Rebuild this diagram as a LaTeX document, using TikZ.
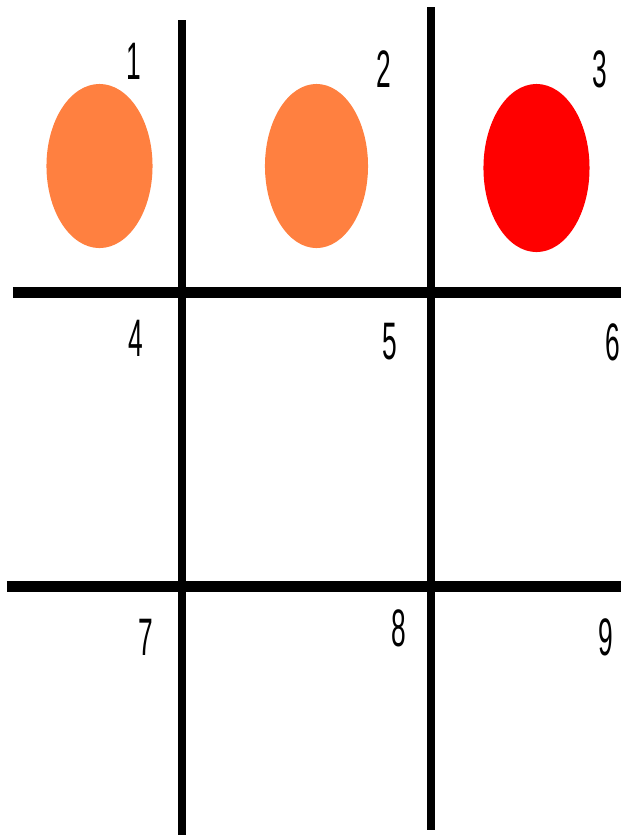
\documentclass[tikz,border=0pt]{standalone}
\usepackage{fontspec}
\setmainfont{Liberation Sans}
\usetikzlibrary{shapes.geometric}
\definecolor{lightred}{RGB}{255,128,64}
\begin{document}
\begin{tikzpicture}[x=0.01cm,y=-0.01cm,
  num/.style={inner sep=0pt, font=\fontsize{15}{15}\selectfont},
  blob/.style={ellipse, inner sep=0pt, minimum width=1.06cm, minimum height=1.64cm},
  vline/.style={line width=0.08cm},
  hline/.style={line width=0.11cm}]
\useasboundingbox (0,0) rectangle (621,838);
% grid lines
\coordinate (v1t) at (182,20);  \coordinate (v1b) at (182,835);
\coordinate (v2t) at (431,7);   \coordinate (v2b) at (431,830);
\coordinate (h1l) at (13,292);  \coordinate (h1r) at (621,292);
\coordinate (h2l) at (7,586);   \coordinate (h2r) at (621,586);
\draw[vline] (v1t) -- (v1b);
\draw[vline] (v2t) -- (v2b);
\draw[hline] (h1l) -- (h1r);
\draw[hline] (h2l) -- (h2r);
% balls
\node[blob, fill=lightred] (b1) at (99.5,166) {};
\node[blob, fill=lightred, minimum width=1.03cm] (b2) at (316.5,166) {};
\node[blob, fill=red, minimum height=1.68cm] (b3) at (536.5,168) {};
% cell numbers
\node[num] (n1) at (134,61)  {\scalebox{0.5}[1]{1}};
\node[num] (n2) at (384,69)  {\scalebox{0.5}[1]{2}};
\node[num] (n3) at (600,69)  {\scalebox{0.5}[1]{3}};
\node[num] (n4) at (136,338) {\scalebox{0.5}[1]{4}};
\node[num] (n5) at (390,342) {\scalebox{0.5}[1]{5}};
\node[num] (n6) at (613,342) {\scalebox{0.5}[1]{6}};
\node[num] (n7) at (146,637) {\scalebox{0.5}[1]{7}};
\node[num] (n8) at (399,628) {\scalebox{0.5}[1]{8}};
\node[num] (n9) at (606,637) {\scalebox{0.5}[1]{9}};
\end{tikzpicture}
\end{document}
